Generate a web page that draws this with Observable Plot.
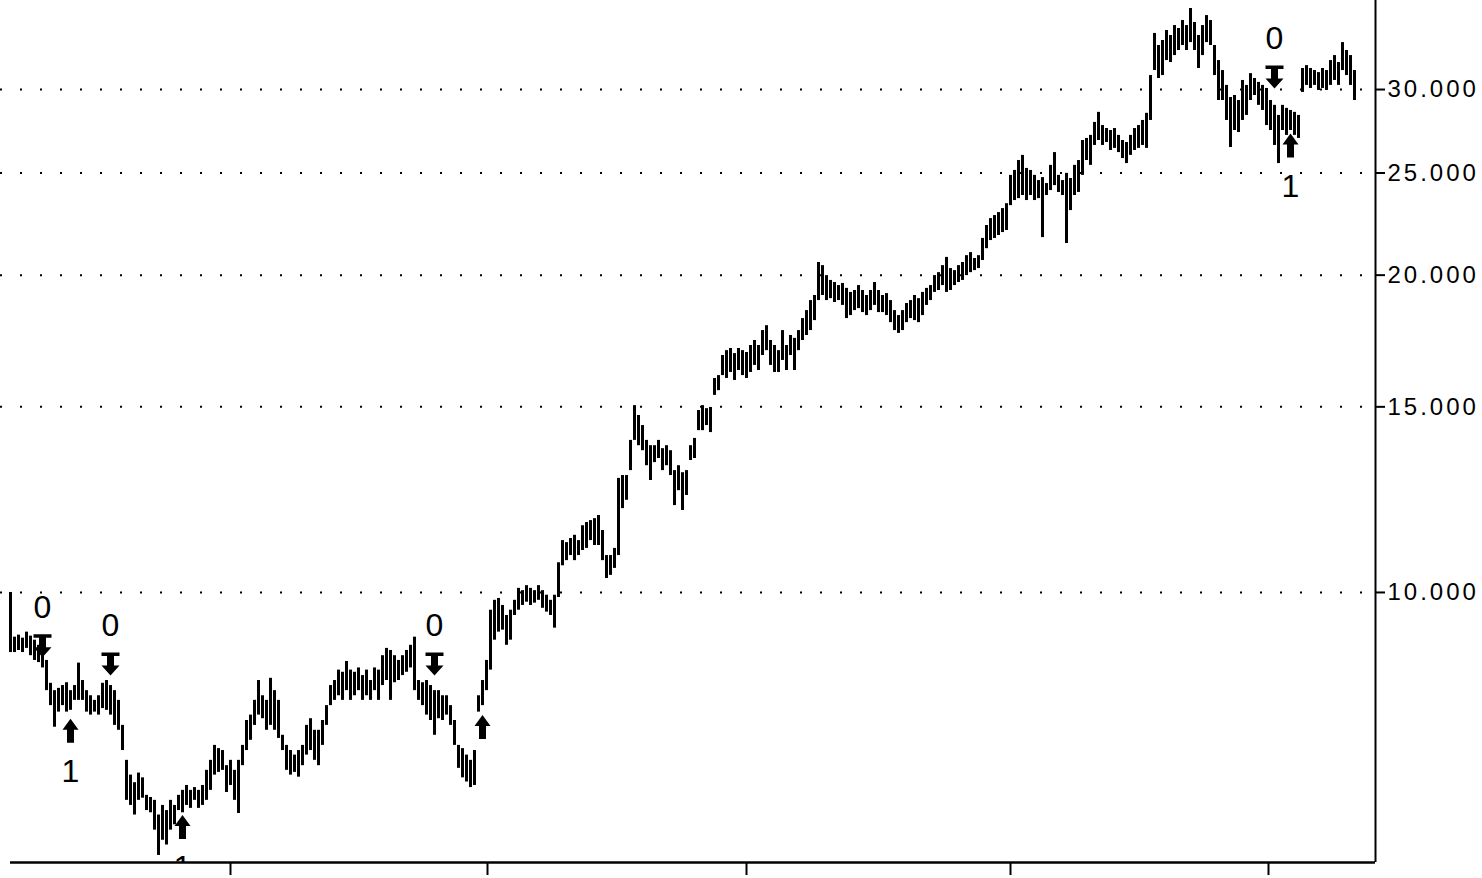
<!DOCTYPE html>
<html><head><meta charset="utf-8">
<script src="https://cdn.jsdelivr.net/npm/d3@7"></script>
<script src="https://cdn.jsdelivr.net/npm/@observablehq/plot@0.6"></script>
<style>
html,body{margin:0;padding:0;background:#fff;}
#chart svg{display:block;}
#chart g[aria-label="y-axis tick label"] text{letter-spacing:3px;}
</style></head><body><div id="chart"></div>
<script>
// Bar highs / lows (price units), one entry per bar
const highs = [
10000,9070,9110,9050,9170,9090,9010,8910,8850,8620,
8200,8070,8110,8160,8210,8070,8160,8570,8250,8070,
7980,7900,7980,8200,8250,8160,8070,7900,7480,6930,
6710,6600,6740,6670,6420,6390,6350,6150,6280,6210,
6350,6280,6420,6490,6560,6490,6530,6490,6560,6780,
6930,7160,7110,7080,6850,6930,6780,6930,7160,7560,
7650,7900,8250,7980,7900,8290,8070,7900,7320,7160,
7080,7010,7080,7160,7480,7590,7400,7400,7560,7810,
8160,8250,8440,8400,8600,8440,8400,8480,8340,8440,
8250,8480,8440,8710,8850,8810,8710,8620,8710,8810,
8910,9070,8250,8210,8250,8160,8070,8070,7980,7980,
7810,7560,7160,7110,7010,6930,7080,7980,8250,8620,
9620,9830,9870,9720,9510,9620,9830,10090,10040,10150,
10090,10040,10150,10040,9940,9830,9940,10670,11200,11150,
11250,11330,11200,11570,11650,11700,11750,11830,11450,10840,
10840,11010,12830,12910,12910,13940,15040,14720,14400,13940,
13780,13780,13940,13690,13780,13630,13050,13190,12990,13050,
13780,14000,14880,15040,14940,14980,15960,16060,16780,16960,
17040,16850,17040,16960,16890,17150,17340,17150,17720,17910,
17340,17150,16960,17720,17150,17530,17420,17720,18190,18510,
18920,19130,20560,20420,19980,19770,19680,19550,19640,19430,
19260,19340,19550,19340,19130,19340,19680,19340,19130,19210,
18920,18510,18310,18510,18800,18920,19130,19000,19260,19430,
19550,19980,20110,20420,20790,20290,20200,20420,20560,20870,
21010,20740,20870,21670,22290,22630,22780,22930,23130,23380,
24870,25140,25690,25980,25250,25140,24870,24590,24750,24430,
25420,26140,24870,24590,24980,24700,25420,25690,26840,26960,
27140,27920,28540,27730,27550,27430,27550,27140,26840,26720,
27140,27550,27730,28040,28480,30930,33910,33030,33390,34130,
33760,34500,34280,34880,34500,35810,34730,33760,34500,35260,
34880,33030,31960,31270,30270,29480,29610,29290,30600,30270,
31060,30730,30470,30270,30070,29290,28980,28350,28980,28790,
28660,28540,28350,31410,31610,31410,31270,31130,31410,31270,
31960,32310,31820,33240,32670,32310,31270
];
const lows = [
8770,8770,8810,8770,8850,8710,8620,8580,8480,8070,
7810,7450,7700,7810,7700,7730,7900,7900,7900,7700,
7650,7700,7650,7760,7730,7650,7480,7400,7080,6350,
6280,6150,6350,6380,6210,6180,5950,5630,5820,5760,
5950,6020,6210,6180,6280,6240,6350,6240,6280,6350,
6490,6710,6750,6780,6460,6560,6350,6170,6850,7080,
7240,7480,7650,7590,7400,7480,7400,7270,7080,6780,
6710,6750,6680,6850,7010,7080,6930,6850,7160,7480,
7810,7900,7980,7900,8070,7900,7980,8070,7900,7980,
7900,8070,7900,8160,8250,7900,8210,8250,8340,8400,
8480,8070,7900,7810,7650,7560,7320,7590,7560,7650,
7480,7160,6810,6670,6610,6530,6560,7700,7810,8070,
8440,9010,9170,9210,8910,9010,9510,9620,9720,9790,
9720,9770,9830,9660,9580,9510,9250,9890,10600,10720,
10840,10720,10840,10960,11010,11200,11080,11080,10720,10310,
10380,10540,10840,12010,12230,13050,13940,13780,13630,13190,
12770,13280,13400,13050,13190,12910,12090,12490,11960,12360,
13340,13400,14240,14240,14400,14180,15380,15540,16060,15960,
16170,15890,16240,16060,15960,16170,16420,16240,16780,16960,
16420,16170,16170,16600,16240,16780,16240,16960,17340,17530,
17720,18110,18920,19130,18920,19000,18840,18920,18720,18190,
18310,18510,18590,18430,18310,18510,18720,18430,18430,18310,
18030,17720,17610,17720,18030,18190,18110,18030,18310,18720,
18920,19260,19340,19550,19260,19340,19550,19680,19770,19980,
20110,20200,20290,20650,21190,21570,21670,21810,21950,22050,
23280,23540,23640,23800,23540,23800,23540,23640,21710,23800,
24060,24320,23960,23800,21430,23030,23800,23960,24870,25690,
25420,26550,26840,26550,26720,26260,26380,26140,25800,25520,
25980,26260,26380,26550,26380,28040,31270,30730,30930,31960,
31820,32310,32670,33030,32670,33240,32670,31410,32310,33240,
33030,30930,29290,29290,28040,26430,27430,27310,28040,28350,
29290,29610,28980,28660,27730,27430,26550,25520,27430,27140,
27430,27140,26960,29810,30270,30070,30270,29940,30070,29940,
30270,30600,30270,31270,30930,30270,29290
];
// Price axis ticks (right side)
const yTicks = [10000, 15000, 20000, 25000, 30000];
// Period boundaries on the time axis (bar index)
const xTicks = [55, 119.25, 184, 250, 314.5];
// Signals: bar index, direction, label, price level of the arrow tip
const sigIndex = [8, 15, 25, 43, 106, 118, 316, 320];
const sigType  = ["down", "up", "down", "up", "down", "up", "down", "up"];
const sigLabel = ["0", "1", "0", "1", "0", "", "0", "1"];
const sigLevel = [8680, 7590, 8340, 6150, 8340, 7650, 30070, 27250];

const bars = highs.map((h, i) => ({i, high: h, low: lows[i]}));
const signals = sigIndex.map((i, k) => ({i, type: sigType[k], label: sigLabel[k], level: sigLevel[k]}));
const downs = signals.filter(d => d.type === "down");
const ups = signals.filter(d => d.type === "up");

const xDomain = [-2.5, 341.25];
const yDomain = [5544, 36440];

const downArrow = {draw(ctx) {
  ctx.moveTo(-9, -23); ctx.lineTo(9, -23); ctx.lineTo(9, -19.5); ctx.lineTo(3.5, -19.5);
  ctx.lineTo(3.5, -10); ctx.lineTo(9, -10); ctx.lineTo(0, 0); ctx.lineTo(-9, -10);
  ctx.lineTo(-3.5, -10); ctx.lineTo(-3.5, -19.5); ctx.lineTo(-9, -19.5); ctx.closePath();
}};
const upArrow = {draw(ctx) {
  ctx.moveTo(0, 0); ctx.lineTo(8, 11); ctx.lineTo(3.5, 11); ctx.lineTo(3.5, 24);
  ctx.lineTo(-3.5, 24); ctx.lineTo(-3.5, 11); ctx.lineTo(-8, 11); ctx.closePath();
}};

const fmt = d => d3.format(",")(d).replace(/,/g, ".");
const labelFont = "'Liberation Sans Narrow', 'Liberation Sans', Arial, sans-serif";

const chart = Plot.plot({
  width: 1482, height: 878,
  marginTop: 0, marginBottom: 16, marginLeft: 0, marginRight: 107,
  x: {domain: xDomain},
  y: {type: "log", domain: yDomain},
  style: {background: "white", color: "black", fontFamily: "'Liberation Sans', Arial, sans-serif"},
  marks: [
    Plot.ruleY(yTicks, {stroke: "black", strokeWidth: 2, strokeDasharray: "2,18"}),
    Plot.ruleX(bars, {x: "i", y1: "low", y2: "high", stroke: "black", strokeWidth: 3}),
    Plot.dot(downs, {x: "i", y: "level", symbol: downArrow, fill: "black", stroke: "none", r: 10}),
    Plot.dot(ups, {x: "i", y: "level", symbol: upArrow, fill: "black", stroke: "none", r: 10}),
    Plot.text(downs, {x: "i", y: "level", text: "label", dy: -50, fontSize: 32, fontFamily: labelFont, fill: "black", clip: true}),
    Plot.text(ups.filter(d => d.label), {x: "i", y: "level", text: "label", dy: 53, fontSize: 32, fontFamily: labelFont, fill: "black", clip: true}),
    Plot.ruleX([xDomain[1]], {stroke: "black", strokeWidth: 2}),
    Plot.ruleY([yDomain[0]], {x1: 0, x2: xDomain[1], stroke: "black", strokeWidth: 2.5}),
    Plot.axisY(yTicks, {anchor: "right", tickSize: 9, tickPadding: 3, tickFormat: fmt, fontSize: 24, strokeWidth: 2, label: null}),
    Plot.axisX(xTicks, {anchor: "bottom", tickSize: 13, tickFormat: () => "", strokeWidth: 2, label: null})
  ]
});
document.getElementById("chart").appendChild(chart);
</script></body></html>
